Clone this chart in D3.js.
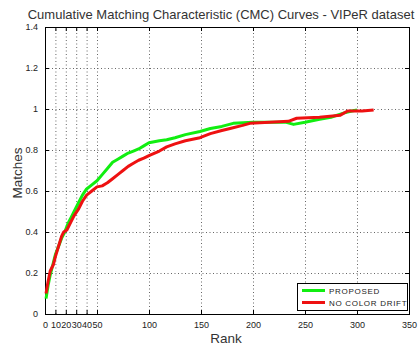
<!DOCTYPE html>
<html>
<head>
<meta charset="utf-8">
<script src="https://cdn.jsdelivr.net/npm/d3@7"></script>
<style>
body { margin: 0; background: #fff; }
svg { display: block; font-family: Arial, "Liberation Sans", sans-serif; }
.grid line { stroke: #666; stroke-width: 1; stroke-dasharray: 1,2.5; }
</style>
</head>
<body>
<svg id="svg_cmc" width="418" height="345"></svg>
<script>
// rank / match rate
var proposedRank = [1, 3, 5, 8, 10, 13, 16, 19, 22, 25, 28, 32, 36, 40, 45, 50, 55, 60, 65, 70, 75, 80, 85, 90, 95, 100, 105, 110, 117, 125, 135, 149, 159, 170, 181, 200, 220, 232, 239, 250, 264, 275, 287, 295, 300];
var proposedVal = [0.075, 0.14, 0.19, 0.25, 0.29, 0.33, 0.37, 0.40, 0.44, 0.47, 0.50, 0.54, 0.58, 0.61, 0.63, 0.65, 0.68, 0.71, 0.74, 0.755, 0.77, 0.785, 0.795, 0.805, 0.82, 0.835, 0.84, 0.845, 0.85, 0.86, 0.875, 0.89, 0.905, 0.915, 0.93, 0.935, 0.935, 0.935, 0.925, 0.935, 0.95, 0.96, 0.98, 0.99, 0.995];
var driftRank = [1, 3, 5, 8, 10, 13, 16, 18, 21, 24, 28, 32, 36, 40, 45, 50, 55, 60, 65, 70, 75, 80, 85, 90, 95, 101, 110, 117, 125, 135, 149, 159, 170, 178, 190, 197, 216, 234, 242, 264, 284, 291, 305, 316];
var driftVal = [0.10, 0.16, 0.21, 0.24, 0.28, 0.33, 0.38, 0.40, 0.41, 0.44, 0.48, 0.51, 0.55, 0.58, 0.60, 0.62, 0.625, 0.64, 0.66, 0.68, 0.70, 0.72, 0.735, 0.75, 0.76, 0.775, 0.795, 0.815, 0.83, 0.845, 0.86, 0.88, 0.895, 0.905, 0.92, 0.93, 0.935, 0.94, 0.955, 0.96, 0.97, 0.99, 0.99, 0.995];
var xTicks = [0, 10, 20, 30, 40, 50, 100, 150, 200, 250, 300, 350];
var yTicks = [0, 0.2, 0.4, 0.6, 0.8, 1, 1.2, 1.4];
var seriesNames = ["PROPOSED", "NO COLOR DRIFT"];
var seriesColors = ["#11ee11", "#ee1111"];

var svg = d3.select("#svg_cmc"),
	margin = {top: 27, left: 45, right: 9, bottom: 31},
	width = +svg.attr("width"),
	height = +svg.attr("height");

var x = d3.scaleLinear().domain([0, 350]).range([margin.left, width - margin.right]);
var y = d3.scaleLinear().domain([0, 1.4]).range([height - margin.bottom, margin.top]);

// grid
var grid = svg.append("g").attr("class", "grid");
grid.selectAll(".gx").data(xTicks.slice(1, -1)).enter().append("line")
	.attr("x1", function(d) { return x(d) + 0.5; })
	.attr("x2", function(d) { return x(d) + 0.5; })
	.attr("y1", y(0)).attr("y2", y(1.4));
grid.selectAll(".gy").data(yTicks.slice(1, -1)).enter().append("line")
	.attr("y1", function(d) { return Math.round(y(d)) + 0.5; })
	.attr("y2", function(d) { return Math.round(y(d)) + 0.5; })
	.attr("x1", x(0)).attr("x2", x(350));

// axes, ticks inside like matlab
var axisB = d3.axisBottom(x).tickValues(xTicks).tickSizeInner(-4).tickSizeOuter(0).tickPadding(8);
var axisL = d3.axisLeft(y).tickValues(yTicks).tickSizeInner(-4).tickSizeOuter(0).tickPadding(7).tickFormat(d3.format("~g"));
var axisT = d3.axisTop(x).tickValues(xTicks).tickSizeInner(-4).tickSizeOuter(0).tickFormat("");
var axisR = d3.axisRight(y).tickValues(yTicks).tickSizeInner(-4).tickSizeOuter(0).tickFormat("");

var gB = svg.append("g").attr("transform", "translate(0," + (height - margin.bottom) + ")").call(axisB);
var gL = svg.append("g").attr("transform", "translate(" + margin.left + ",0)").call(axisL);
svg.append("g").attr("transform", "translate(0," + margin.top + ")").call(axisT);
svg.append("g").attr("transform", "translate(" + (width - margin.right) + ",0)").call(axisR);
svg.selectAll(".domain").remove();
gB.selectAll("text").attr("font-size", 9).attr("fill", "#222").attr("font-family", "Arial, sans-serif");
gL.selectAll("text").attr("font-size", 9).attr("fill", "#222").attr("font-family", "Arial, sans-serif");

svg.append("rect")
	.attr("x", x(0) + 0.5).attr("y", y(1.4) + 0.5)
	.attr("width", x(350) - x(0)).attr("height", y(0) - y(1.4))
	.attr("fill", "none").attr("stroke", "#000");

// curves
var line = d3.line()
	.x(function(d) { return x(d[0]); })
	.y(function(d) { return y(d[1]); });
var g_line = svg.append("g");
var data = [d3.zip(proposedRank, proposedVal), d3.zip(driftRank, driftVal)];
for (var i = 0; i < data.length; ++i) {
	g_line.append("path")
		.attr("d", line(data[i]))
		.attr("fill", "none")
		.attr("stroke", seriesColors[i])
		.attr("stroke-width", 3)
		.attr("stroke-linejoin", "round");
}

// legend
var lg = svg.append("g").attr("transform", "translate(297,283)");
lg.append("rect").attr("x", 0.5).attr("y", 0.5).attr("width", 110).attr("height", 27)
	.attr("fill", "#fff").attr("stroke", "#000");
for (var i = 0; i < seriesNames.length; ++i) {
	var ly = 7.5 + i * 12;
	lg.append("line").attr("x1", 5).attr("x2", 28).attr("y1", ly).attr("y2", ly)
		.attr("stroke", seriesColors[i]).attr("stroke-width", 3);
	lg.append("text").attr("x", 32).attr("y", ly + 3)
		.attr("font-size", 8).attr("letter-spacing", 0.7).attr("fill", "#222")
		.text(seriesNames[i]);
}

// titles
svg.append("text").attr("x", 221).attr("y", 19).attr("text-anchor", "middle")
	.attr("font-size", 13).attr("fill", "#333")
	.text("Cumulative Matching Characteristic (CMC) Curves - VIPeR dataset");
svg.append("text").attr("x", 226).attr("y", 343).attr("text-anchor", "middle")
	.attr("font-size", 13.5).attr("fill", "#333").text("Rank");
svg.append("text").attr("transform", "translate(22,173) rotate(-90)").attr("text-anchor", "middle")
	.attr("font-size", 13.5).attr("fill", "#333").text("Matches");
</script>
</body>
</html>
